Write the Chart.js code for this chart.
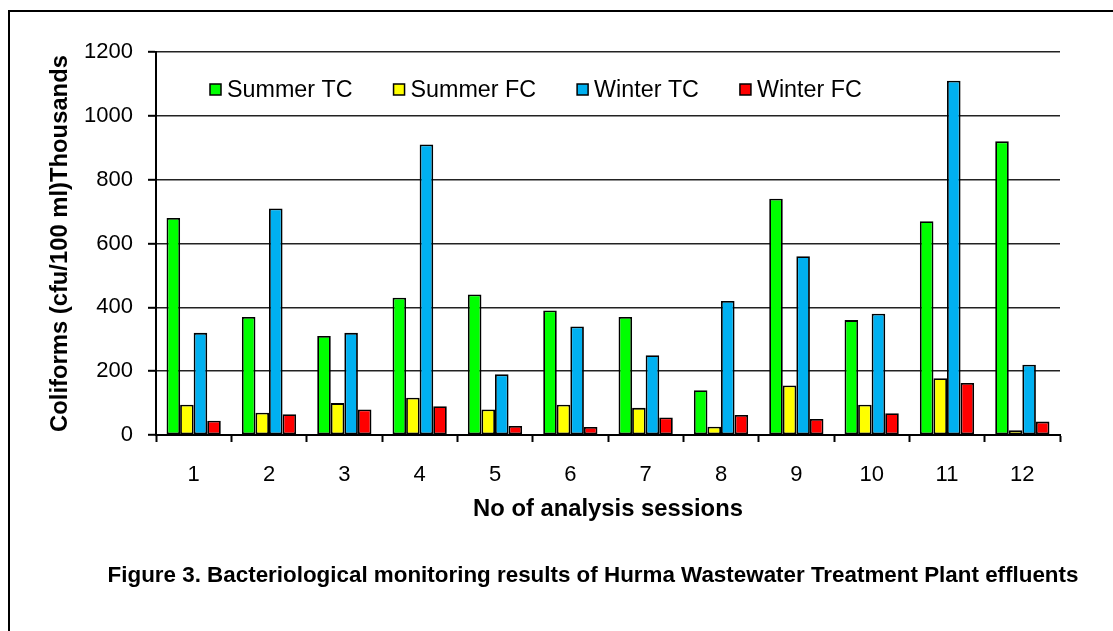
<!DOCTYPE html>
<html>
<head>
<meta charset="utf-8">
<script src="https://cdn.jsdelivr.net/npm/chart.js@4/dist/chart.umd.min.js"></script>
<style>
  html, body { margin: 0; padding: 0; background: #fff; overflow: hidden; }
  #frame { position: absolute; left: 8px; top: 10px; width: 1200px; height: 700px; border: 2px solid #000; }
  #wrap { position: absolute; left: 0; top: 0; width: 1113px; height: 631px; }
  #caption { position: absolute; left: 0; top: 562px; width: 1186px; text-align: center; white-space: nowrap;
    font: bold 22.4px "Liberation Sans", Arial, sans-serif; color: #000; }
</style>
</head>
<body>
<div id="frame"></div>
<div id="wrap"><canvas id="c" width="1113" height="631"></canvas></div>
<div id="caption">Figure 3. Bacteriological monitoring results of Hurma Wastewater Treatment Plant effluents</div>
<script>
const categories = ['1','2','3','4','5','6','7','8','9','10','11','12'];
const seriesNames = ['Summer TC','Summer FC','Winter TC','Winter FC'];
const summerTC = [680, 370, 310, 430, 440, 390, 370, 140, 740, 360, 670, 920];
const summerFC = [95, 70, 100, 117, 80, 95, 85, 26, 155, 95, 178, 15];
const winterTC = [320, 710, 320, 910, 190, 340, 250, 420, 560, 380, 1110, 220];
const winterFC = [45, 65, 80, 90, 28, 25, 55, 63, 50, 68, 163, 42];
const yTicks = [0, 200, 400, 600, 800, 1000, 1200];
const xTitle = 'No of analysis sessions';
const yTitle = 'Coliforms (cfu/100 ml)Thousands';

const colors = ['#00FF00', '#FFFF00', '#00B0F0', '#FF0000'];
const values = [summerTC, summerFC, winterTC, winterFC];
const FONT = '"Liberation Sans", Arial, sans-serif';

// Legend drawn inside the plot area, in one row, from the datasets' own labels/colours
const inAreaLegend = {
  id: 'inAreaLegend',
  afterDraw(chart) {
    const ctx = chart.ctx;
    const area = chart.chartArea;
    ctx.save();
    ctx.font = '23.3px ' + FONT;
    ctx.textBaseline = 'middle';
    ctx.textAlign = 'left';
    let x = area.left + 54;
    const cy = area.top + 37.5;
    chart.data.datasets.forEach(ds => {
      ctx.fillStyle = ds.backgroundColor;
      ctx.fillRect(x, cy - 5.5, 11, 11);
      ctx.strokeStyle = '#000';
      ctx.lineWidth = 1.5;
      ctx.strokeRect(x, cy - 5.5, 11, 11);
      ctx.fillStyle = '#000';
      ctx.fillText(ds.label, x + 17, cy + 1);
      x += 17 + ctx.measureText(ds.label).width + 41;
    });
    ctx.restore();
  }
};

new Chart(document.getElementById('c'), {
  type: 'bar',
  data: {
    labels: categories,
    datasets: seriesNames.map((n, i) => ({
      label: n,
      data: values[i],
      backgroundColor: colors[i],
      borderColor: '#000',
      borderWidth: 1.8,
      borderSkipped: false,
      categoryPercentage: 0.72,
      barPercentage: 1.0
    }))
  },
  options: {
    responsive: false,
    animation: false,
    devicePixelRatio: 1,
    layout: { padding: { left: 20, right: 53, top: 52, bottom: 96 } },
    plugins: {
      tooltip: { enabled: false },
      title: { display: false },
      legend: { display: false }
    },
    scales: {
      x: {
        afterFit(s) { s.height = 100; },
        grid: { display: true, drawOnChartArea: false, drawTicks: true, tickLength: 7, tickColor: '#000', tickWidth: 2, offset: true },
        border: { display: true, color: '#000', width: 2 },
        ticks: { color: '#000', padding: 20, font: { family: FONT, size: 22 }, maxRotation: 0 },
        title: { display: true, text: xTitle, color: '#000', font: { family: FONT, size: 23.8, weight: 'bold' }, padding: { top: 0, bottom: 11 } }
      },
      y: {
        min: 0, max: 1200,
        afterFit(s) { s.width = 136; },
        afterBuildTicks(s) { s.ticks = yTicks.map(v => ({ value: v })); },
        grid: { color: '#222', lineWidth: 1.6, drawTicks: true, tickLength: 8, tickColor: '#000', tickWidth: 2 },
        border: { display: true, color: '#000', width: 2 },
        ticks: { color: '#000', padding: 15, font: { family: FONT, size: 22 }, callback: v => String(v) },
        title: { display: true, text: yTitle, color: '#000', font: { family: FONT, size: 23.8, weight: 'bold' }, padding: { top: 26, bottom: 0 } }
      }
    }
  },
  plugins: [inAreaLegend]
});
</script>
</body>
</html>
